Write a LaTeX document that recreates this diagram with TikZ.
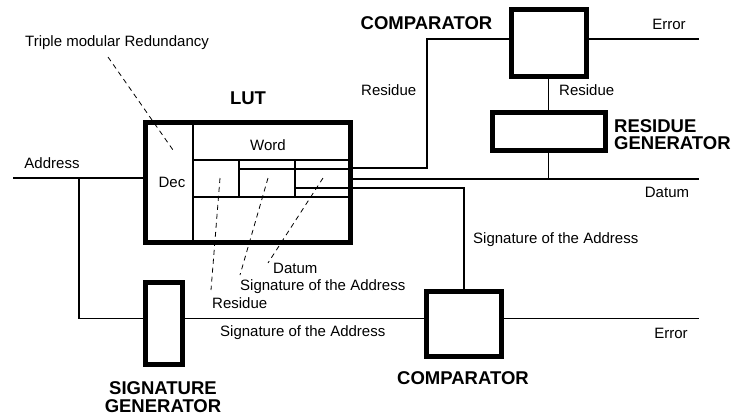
\documentclass[tikz,border=0pt]{standalone}
\usepackage{fontspec}
\setmainfont{Liberation Sans}
\begin{document}
\begin{tikzpicture}[x=1pt,y=-1pt,
  thickbox/.style={draw, line width=5pt, inner sep=0pt, outer sep=0pt},
  wire/.style={line width=1.2pt},
  thin/.style={line width=1.2pt},
  leader/.style={line width=0.8pt, dash pattern=on 5pt off 4pt},
  lbl/.style={font=\fontsize{15}{17}\selectfont, inner sep=0pt},
  big/.style={font=\fontsize{18.5}{17.5}\selectfont\bfseries, inner sep=0pt}]
\useasboundingbox (0,0) rectangle (732,416);

% boxes
\node[thickbox, minimum width=205pt, minimum height=120pt] (lut) at (248,182.5) {};
\node[thickbox, minimum width=75pt, minimum height=67pt] (cmpA) at (548.5,43) {};
\node[thickbox, minimum width=113pt, minimum height=38pt] (resgen) at (548.5,131.5) {};
\node[thickbox, minimum width=37pt, minimum height=82pt] (sig) at (164,323.5) {};
\node[thickbox, minimum width=75pt, minimum height=65pt] (cmpB) at (464,324) {};

% helper coordinates
\coordinate (y39) at (0,39);
\coordinate (y168) at (0,168);
\coordinate (y178) at (0,178);
\coordinate (y179) at (0,179);
\coordinate (y188) at (0,188);
\coordinate (y318) at (0,318.5);
\coordinate (addrin) at (13,178);
\coordinate (branch) at (79,178);
\coordinate (branchlow) at (79,318.5);
\coordinate (rescorner) at (427,168);
\coordinate (rescornertop) at (427,39);
\coordinate (errA) at (699,39);
\coordinate (errB) at (699,318.5);
\coordinate (datumend) at (699,179);
\coordinate (sigcorner) at (464,188);
\coordinate (datumjoin) at (548.5,179);

% LUT internals
\draw[thin] (193,122.5) -- (193,242.5);
\draw[thin] (193,160) -- (350.5,160);
\draw[thin] (193,197) -- (350.5,197);
\draw[thin] (239,160) -- (239,197);
\draw[thin] (295,160) -- (295,197);
\draw[thin] (239,169) -- (350.5,169);
\draw[thin] (295,188) -- (350.5,188);

% wires
\draw[wire] (addrin) -- (lut.west |- y178);
\draw[wire] (branch) -- (branchlow) -- (sig.west |- y318);
\draw[wire] (sig.east |- y318) -- (cmpB.west |- y318);
\draw[wire] (cmpB.east |- y318) -- (errB);
\draw[wire] (lut.east |- y168) -- (rescorner) -- (rescornertop) -- (cmpA.west |- y39);
\draw[wire] (cmpA.east |- y39) -- (errA);
\draw[wire] (cmpA.south) -- (resgen.north);
\draw[wire] (resgen.south) -- (datumjoin);
\draw[wire] (lut.east |- y179) -- (datumend);
\draw[wire] (lut.east |- y188) -- (sigcorner) -- (cmpB.north);

% leaders
\draw[leader] (108,57) -- (173,150);
\draw[leader] (220,178) -- (211,290);
\draw[leader] (268,178) -- (240,275);
\draw[leader] (323,178) -- (268,263);

% labels
\node[lbl, anchor=west] (tmr) at (25,43) {Triple modular Redundancy};
\node[big] (lutlbl) at (248,98) {LUT};
\node[lbl] (word) at (268,145) {Word};
\node[lbl] (dec) at (172,182) {Dec};
\node[lbl] (addr) at (52,163) {Address};
\node[big] (cmpAlbl) at (426.5,23) {COMPARATOR};
\node[lbl] (errAlbl) at (669,24) {Error};
\node[lbl, anchor=west] (resA) at (361,90) {Residue};
\node[lbl, anchor=west] (resB) at (559,90) {Residue};
\node[big, anchor=west, align=left] (resgenlbl) at (614,134.5) {RESIDUE\\GENERATOR};
\node[lbl] (datumA) at (667,192) {Datum};
\node[lbl, anchor=west] (sigA) at (473,240) {Signature of the Address};
\node[lbl, anchor=west] (datumB) at (273,268) {Datum};
\node[lbl, anchor=west] (sigB) at (240,287) {Signature of the Address};
\node[lbl, anchor=west] (resC) at (212,303) {Residue};
\node[lbl, anchor=west] (sigC) at (220,333) {Signature of the Address};
\node[lbl] (errBlbl) at (671,333) {Error};
\node[big] (cmpBlbl) at (463,378) {COMPARATOR};
\node[big, align=center] (siglbl) at (163,397) {SIGNATURE\\GENERATOR};
\end{tikzpicture}
\end{document}
